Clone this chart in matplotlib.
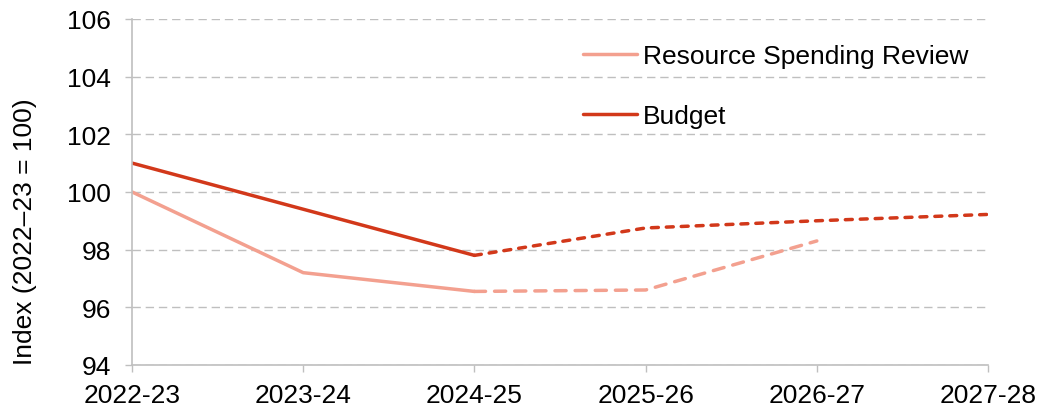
import matplotlib.pyplot as plt

plt.rcParams["font.family"] = ["Liberation Sans", "DejaVu Sans"]

years = ["2022-23", "2023-24", "2024-25", "2025-26", "2026-27", "2027-28"]
budget = [101.0, 99.4, 97.8, 98.75, 99.0, 99.22]
rsr = [100.0, 97.2, 96.55, 96.6, 98.3]

OUTTURN = 3  # first three years are solid, the rest are forecasts (dashed)

BUDGET_COL = "#D2381A"
RSR_COL = "#F3A08F"
GRID_COL = "#BFBFBF"
FS = 19

fig = plt.figure(figsize=(10.42, 4.14), dpi=100)
ax = fig.add_axes([0.1267, 0.116, 0.8215, 0.836])

x_b = list(range(len(budget)))
x_r = list(range(len(rsr)))

ax.plot(x_r[:OUTTURN], rsr[:OUTTURN], color=RSR_COL, lw=2.5,
        solid_capstyle="round", label="Resource Spending Review")
ax.plot(x_r[OUTTURN - 1:], rsr[OUTTURN - 1:], color=RSR_COL, lw=2.5,
        dashes=(3.2, 2.6), dash_capstyle="round")
ax.plot(x_b[:OUTTURN], budget[:OUTTURN], color=BUDGET_COL, lw=2.5,
        solid_capstyle="round", label="Budget")
ax.plot(x_b[OUTTURN - 1:], budget[OUTTURN - 1:], color=BUDGET_COL, lw=2.5,
        dashes=(2.0, 2.3), dash_capstyle="round")

ax.set_xlim(0, len(years) - 1)
ax.set_ylim(94, 106)
ax.set_xticks(x_b)
ax.set_xticklabels(years)
ax.set_yticks(range(94, 107, 2))
ax.tick_params(axis="both", labelsize=FS, color=GRID_COL, length=5, width=1)
ax.tick_params(axis="x", pad=8)
ax.tick_params(axis="y", pad=10)
ax.set_ylabel("Index (2022\u201323 = 100)", fontsize=FS)
ax.yaxis.set_label_coords(-0.111, 0.387)

ax.grid(axis="y", color=GRID_COL, linestyle=(0, (6, 3.5)), lw=1)
for side in ["top", "right"]:
    ax.spines[side].set_visible(False)
for side in ["left", "bottom"]:
    ax.spines[side].set_color(GRID_COL)
    ax.spines[side].set_linewidth(1.2)

ax.legend(loc="upper left", bbox_to_anchor=(0.527, 0.928), frameon=False,
          fontsize=FS, handlelength=2.05, handletextpad=0.2,
          labelspacing=1.37, borderpad=0, borderaxespad=0)

fig.savefig("out.png", dpi=100)
